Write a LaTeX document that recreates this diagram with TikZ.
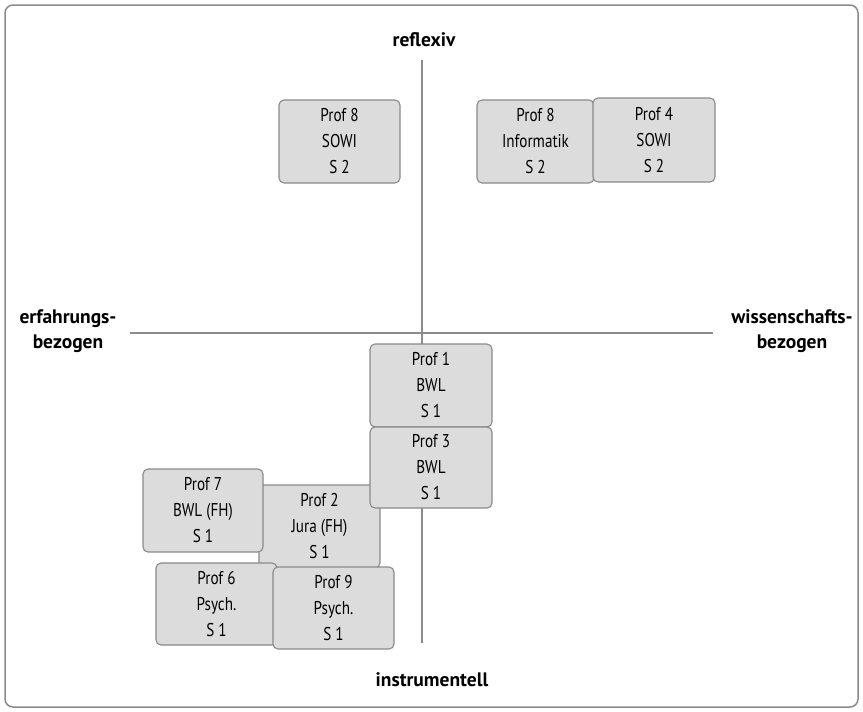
\documentclass[tikz,border=0pt]{standalone}
\usepackage{fontspec}
\setmainfont{PT Sans}
\newfontfamily\condfont{PT Sans}[FakeStretch=0.82]
\usetikzlibrary{positioning}

\definecolor{boxfill}{HTML}{DCDCDC}
\definecolor{boxline}{HTML}{8A8A8A}
\definecolor{axisgray}{HTML}{8C8C8C}

\tikzset{
  profbox/.style={draw=boxline, fill=boxfill, line width=1.1pt, rounded corners=5pt,
    minimum width=121pt, minimum height=83pt, inner sep=0pt, align=center,
    font=\condfont\fontsize{18.5}{26}\selectfont},
  axislabel/.style={align=center, font=\bfseries\fontsize{19.5}{25}\selectfont, inner sep=0pt},
  axisline/.style={draw=axisgray, line width=2pt}
}

\begin{document}
\begin{tikzpicture}[x=1pt, y=-1pt]
  \useasboundingbox (0,0) rectangle (863,712);
  \draw[boxline, line width=1.5pt, rounded corners=8pt, fill=white] (5,5) rectangle (858,707);

  % axes
  \coordinate (ytop) at (422,60);
  \coordinate (ybot) at (422,643);
  \coordinate (xleft) at (130,333);
  \coordinate (xright) at (713,333);
  \draw[axisline] (ytop) -- (ybot);
  \draw[axisline] (xleft) -- (xright);

  \node[axislabel] (refl) at (424,40) {reflexiv};
  \node[axislabel] (instr) at (432,680) {instrumentell};
  \node[axislabel] (erf) at (68,331) {erfahrungs-\\bezogen};
  \node[axislabel] (wiss) at (792,331) {wissenschafts-\\bezogen};

  % upper half
  \node[profbox] (p8sowi) at (339.5,141.5) {Prof 8\\SOWI\\S 2};
  \node[profbox, minimum width=117pt] (p8inf) at (535.5,141.5) {Prof 8\\Informatik\\S 2};
  \node[profbox, minimum width=122pt, minimum height=84pt] (p4sowi) at (654,140) {Prof 4\\SOWI\\S 2};

  % lower half
  \node[profbox] (p2jura) at (319.5,526.5) {Prof 2\\Jura (FH)\\S 1};
  \node[profbox, minimum width=122pt] (p1bwl) at (431,385.5) {Prof 1\\BWL\\S 1};
  \node[profbox, minimum width=122pt, minimum height=81pt] (p3bwl) at (431,467.5) {Prof 3\\BWL\\S 1};
  \node[profbox, minimum width=120pt] (p7bwl) at (203,510.5) {Prof 7\\BWL (FH)\\S 1};
  \node[profbox, minimum height=82pt] (p6psy) at (216.5,604) {Prof 6\\Psych.\\S 1};
  \node[profbox, minimum height=82pt] (p9psy) at (333.5,608) {Prof 9\\Psych.\\S 1};
\end{tikzpicture}
\end{document}
